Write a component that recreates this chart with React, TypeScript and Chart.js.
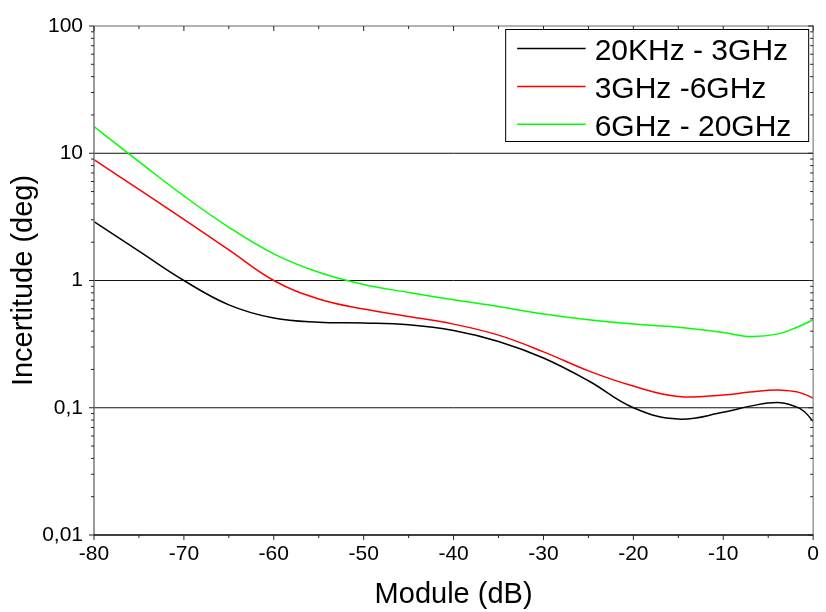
import React, { useEffect, useRef } from "react";
import { Chart, registerables } from "chart.js";

Chart.register(...registerables);

// ---- Data ----
const MODULES = [-80, -75, -70, -65, -60, -55, -50, -45, -40, -35, -30, -25, -20, -15, -10, -7, -4, -2, -1, 0];

const BAND_LOW = [2.9, 1.7, 1.0, 0.644, 0.507, 0.47, 0.464, 0.449, 0.405, 0.332, 0.246, 0.163, 0.1, 0.0815, 0.092, 0.103, 0.11, 0.1025, 0.0935, 0.078];
const BAND_MID = [8.9, 5.19, 3.02, 1.74, 1.0, 0.716, 0.596, 0.521, 0.454, 0.372, 0.275, 0.195, 0.148, 0.1225, 0.126, 0.133, 0.138, 0.134, 0.128, 0.119];
const BAND_HIGH = [16.2, 8.6, 4.62, 2.62, 1.62, 1.16, 0.93, 0.805, 0.705, 0.625, 0.545, 0.492, 0.455, 0.43, 0.39, 0.363, 0.379, 0.423, 0.455, 0.49];

const SERIES_LABELS = ["20KHz - 3GHz", "3GHz -6GHz", "6GHz - 20GHz"];
const SERIES_COLORS = ["#000000", "#ff0000", "#00ff00"];

const X_TICKS = [-80, -70, -60, -50, -40, -30, -20, -10, 0];
const X_MINOR = [-75, -65, -55, -45, -35, -25, -15, -5];
const Y_TICKS = [0.01, 0.1, 1, 10, 100];
const Y_TICK_LABELS = ["0,01", "0,1", "1", "10", "100"];
const Y_GRID = [0.1, 1, 10];

const X_TITLE = "Module (dB)";
const Y_TITLE = "Incertitude (deg)";

const FONT = "'Liberation Sans', Arial, sans-serif";

function yMinorValues(): number[] {
  const out: number[] = [];
  for (let d = 0; d < Y_TICKS.length - 1; d++) {
    for (let k = 2; k <= 9; k++) out.push(Y_TICKS[d] * k);
  }
  return out;
}

const framePlugin = {
  id: "frame",
  beforeDatasetsDraw(chart: any) {
    const { ctx, chartArea } = chart;
    const y = chart.scales.y;
    ctx.save();
    ctx.strokeStyle = "#111";
    ctx.lineWidth = 1;
    for (const v of Y_GRID) {
      const py = y.getPixelForValue(v);
      ctx.beginPath();
      ctx.moveTo(chartArea.left, py);
      ctx.lineTo(chartArea.right, py);
      ctx.stroke();
    }
    ctx.restore();
  },
  afterDatasetsDraw(chart: any) {
    const { ctx, chartArea } = chart;
    const { left, right, top, bottom } = chartArea;
    const x = chart.scales.x;
    const y = chart.scales.y;
    ctx.save();
    ctx.lineWidth = 1.5;
    ctx.strokeStyle = "#9a9a9a";
    ctx.beginPath();
    ctx.moveTo(left, top);
    ctx.lineTo(right, top);
    ctx.lineTo(right, bottom);
    ctx.stroke();
    ctx.strokeStyle = "#7a7a7a";
    ctx.beginPath();
    ctx.moveTo(left, top);
    ctx.lineTo(left, bottom);
    ctx.stroke();
    ctx.strokeStyle = "#000";
    ctx.beginPath();
    ctx.moveTo(left, bottom);
    ctx.lineTo(right, bottom);
    ctx.stroke();

    ctx.lineWidth = 1;
    ctx.strokeStyle = "#222";
    ctx.beginPath();
    for (const v of X_TICKS) {
      const px = x.getPixelForValue(v);
      ctx.moveTo(px, bottom);
      ctx.lineTo(px, bottom + 5);
      ctx.moveTo(px, top);
      ctx.lineTo(px, top + 5);
    }
    for (const v of X_MINOR) {
      const px = x.getPixelForValue(v);
      ctx.moveTo(px, bottom);
      ctx.lineTo(px, bottom + 3);
      ctx.moveTo(px, top);
      ctx.lineTo(px, top + 3);
    }
    for (const v of Y_TICKS) {
      const py = y.getPixelForValue(v);
      ctx.moveTo(left, py);
      ctx.lineTo(left - 5, py);
      ctx.moveTo(right, py);
      ctx.lineTo(right - 5, py);
    }
    for (const v of yMinorValues()) {
      const py = y.getPixelForValue(v);
      ctx.moveTo(left, py);
      ctx.lineTo(left - 3, py);
      ctx.moveTo(right, py);
      ctx.lineTo(right - 3, py);
    }
    ctx.stroke();
    ctx.restore();
  },
  afterDraw(chart: any) {
    const { ctx, chartArea } = chart;
    const boxRight = chartArea.right - 4.5;
    const boxLeft = boxRight - 303;
    const boxTop = chartArea.top + 3.5;
    const boxH = 112;
    ctx.save();
    ctx.fillStyle = "#fff";
    ctx.fillRect(boxLeft, boxTop, boxRight - boxLeft, boxH);
    ctx.strokeStyle = "#000";
    ctx.lineWidth = 1;
    ctx.strokeRect(boxLeft, boxTop, boxRight - boxLeft, boxH);
    ctx.font = `30px ${FONT}`;
    ctx.textAlign = "left";
    ctx.textBaseline = "alphabetic";
    chart.data.datasets.forEach((ds: any, i: number) => {
      const ly = boxTop + 19 + i * 37.9;
      ctx.strokeStyle = ds.borderColor;
      ctx.lineWidth = 1.5;
      ctx.beginPath();
      ctx.moveTo(boxLeft + 11.5, ly);
      ctx.lineTo(boxLeft + 80, ly);
      ctx.stroke();
      ctx.fillStyle = "#000";
      ctx.fillText(ds.label, boxLeft + 89, ly + 11.8);
    });
    ctx.restore();
  },
};

export default function App() {
  const ref = useRef<HTMLCanvasElement | null>(null);

  useEffect(() => {
    if (!ref.current) return;
    Chart.defaults.font.family = FONT;
    const seriesValues = [BAND_LOW, BAND_MID, BAND_HIGH];
    const chart = new Chart(ref.current, {
      type: "line",
      data: {
        datasets: seriesValues.map((vals, i) => ({
          label: SERIES_LABELS[i],
          data: MODULES.map((m, j) => ({ x: m, y: vals[j] })),
          borderColor: SERIES_COLORS[i],
          backgroundColor: SERIES_COLORS[i],
          borderWidth: 1.5,
          pointRadius: 0,
          fill: false,
          tension: 0.4,
        })),
      },
      options: {
        animation: false,
        responsive: false,
        devicePixelRatio: 1,
        layout: { padding: { top: 26, right: 9, left: 0, bottom: 0 } },
        plugins: {
          legend: { display: false },
          tooltip: { enabled: false },
        },
        scales: {
          x: {
            type: "linear",
            position: "bottom",
            min: -80,
            max: 0,
            afterBuildTicks: (s: any) => {
              s.ticks = X_TICKS.map((v) => ({ value: v }));
            },
            afterFit: (s: any) => {
              s.height = 77;
            },
            grid: { display: false, drawTicks: false },
            border: { display: false },
            ticks: {
              color: "#000",
              font: { size: 21 },
              padding: 7,
              maxRotation: 0,
              autoSkip: false,
              callback: (v: any) => String(v),
            },
            title: {
              display: true,
              text: X_TITLE,
              color: "#000",
              font: { size: 29 },
              padding: { top: 0, bottom: 0 },
            },
          },
          y: {
            type: "logarithmic",
            position: "left",
            min: 0.01,
            max: 100,
            afterBuildTicks: (s: any) => {
              s.ticks = Y_TICKS.map((v) => ({ value: v }));
            },
            afterFit: (s: any) => {
              s.width = 94;
            },
            grid: { display: false, drawTicks: false },
            border: { display: false },
            ticks: {
              color: "#000",
              font: { size: 21 },
              padding: 11,
              autoSkip: false,
              callback: (v: any) => {
                const idx = Y_TICKS.findIndex((t) => Math.abs(Math.log10(t) - Math.log10(Number(v))) < 1e-6);
                return idx >= 0 ? Y_TICK_LABELS[idx] : "";
              },
            },
            title: {
              display: true,
              text: Y_TITLE,
              color: "#000",
              font: { size: 29 },
              padding: { top: 7, bottom: 0 },
            },
          },
        },
      },
      plugins: [framePlugin],
    });
    return () => chart.destroy();
  }, []);

  return (
    <div style={{ position: "fixed", left: 0, top: 0, width: 826, height: 612, background: "#fff" }}>
      <canvas ref={ref} width={826} height={612} style={{ width: 826, height: 612, display: "block" }} />
    </div>
  );
}
